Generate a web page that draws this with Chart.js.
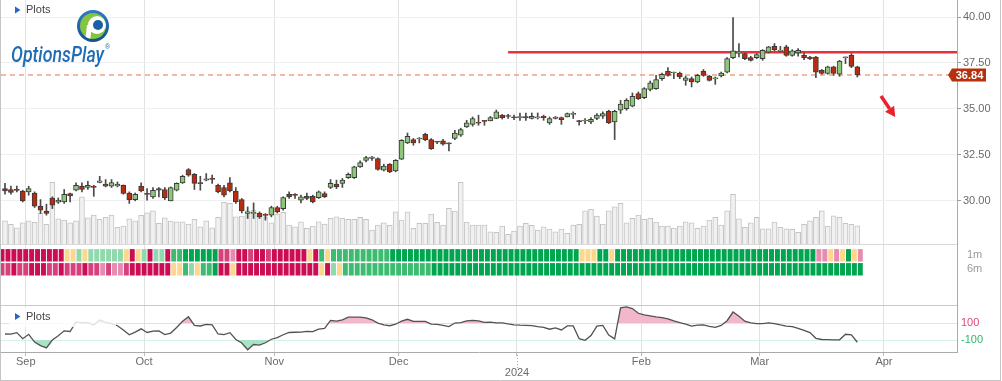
<!DOCTYPE html>
<html><head><meta charset="utf-8">
<script src="https://cdn.jsdelivr.net/npm/chart.js@4.4.1/dist/chart.umd.min.js"></script>
<style>html,body{margin:0;padding:0;background:#fff;overflow:hidden}canvas{display:block}</style>
</head><body>
<canvas id="c" width="1002" height="381"></canvas>
<script>
// ---------------- DATA ----------------
const opens = [30.65,30.60,30.56,30.52,30.47,30.41,29.69,29.43,30.13,29.91,
29.92,30.38,30.56,30.79,30.71,30.78,30.98,30.89,30.78,30.79,
30.82,30.41,30.05,30.78,30.38,30.20,30.65,30.60,29.98,30.56,
30.96,31.69,31.43,30.94,31.11,31.17,30.83,30.71,30.96,30.52,
30.05,29.29,29.29,29.32,29.21,29.20,29.62,29.56,30.34,30.30,
30.02,30.23,30.23,30.16,30.38,30.71,30.89,30.93,31.25,31.25,
31.83,32.19,32.29,32.29,31.65,31.98,31.61,32.25,33.14,33.32,
33.35,33.61,33.32,33.20,33.25,33.11,33.38,33.56,34.01,34.15,
34.23,34.32,34.34,34.47,34.65,34.59,34.52,34.52,34.53,34.47,
34.50,34.59,34.23,34.47,34.52,34.55,34.69,34.31,34.33,34.28,
34.47,34.59,34.86,34.28,34.92,35.01,35.14,35.83,35.61,36.05,
36.10,36.64,37.04,36.95,36.95,36.55,36.64,36.46,37.04,36.77,
36.63,36.79,37.00,37.79,38.03,38.01,37.79,37.79,37.73,38.09,
38.40,38.14,38.37,37.91,38.04,37.91,37.82,37.82,37.10,36.92,
37.28,36.88,37.78,37.91,37.28];
const highs = [30.94,30.78,30.78,30.56,30.78,30.47,30.05,29.80,30.20,30.14,
30.60,30.41,30.96,30.96,31.05,30.83,31.32,31.14,31.14,31.01,
30.85,30.47,30.41,30.96,30.65,30.71,30.71,30.71,30.74,30.96,
31.38,31.74,31.47,31.32,31.47,31.38,30.89,30.83,31.25,30.71,
30.11,29.65,29.87,29.38,29.29,29.69,29.69,30.20,30.47,30.38,
30.29,30.41,30.29,30.52,30.47,31.14,31.11,31.20,31.50,31.87,
32.16,32.41,32.41,32.32,31.98,32.01,32.23,33.32,33.68,33.38,
33.43,33.67,33.38,33.23,33.34,33.14,33.83,33.94,34.37,34.55,
34.65,34.37,34.58,34.93,34.69,34.70,34.65,34.77,34.77,34.77,
34.77,34.65,34.55,34.58,34.55,34.77,34.83,34.37,34.47,34.52,
34.74,34.83,34.92,34.92,35.46,35.55,35.86,35.92,36.15,36.51,
36.82,36.95,37.24,37.00,37.00,36.77,36.73,36.88,37.14,36.82,
36.73,37.00,37.79,39.97,38.55,38.04,37.86,38.01,38.22,38.40,
38.55,38.40,38.46,38.22,38.28,38.04,37.86,37.86,37.14,37.32,
37.32,37.64,37.82,38.01,37.32];
const lows = [30.34,30.34,30.47,29.92,30.29,29.62,29.29,29.20,29.56,29.84,
29.84,29.92,30.52,30.47,30.60,30.23,30.96,30.74,30.71,30.74,
30.34,29.84,29.98,30.47,30.02,30.11,30.20,30.05,29.98,30.52,
30.93,31.32,30.60,30.56,31.07,30.93,30.41,30.20,30.47,29.84,
29.32,29.02,29.02,29.02,28.93,29.11,29.32,29.47,30.11,30.11,
29.87,30.05,29.87,30.11,30.16,30.65,30.65,30.71,31.20,31.20,
31.80,32.10,32.19,31.65,31.61,31.52,31.56,32.23,33.10,33.01,
33.14,33.25,32.78,33.10,33.01,32.70,33.32,33.49,33.98,34.05,
34.10,34.10,34.34,34.46,34.44,34.47,34.41,34.37,34.37,34.44,
34.44,34.37,34.15,34.44,34.15,34.55,34.47,34.10,34.19,34.19,
34.41,34.47,34.19,33.32,34.74,34.92,35.10,35.50,35.55,35.97,
36.05,36.55,36.77,36.64,36.64,36.28,36.19,36.41,36.77,36.51,
36.33,36.73,36.95,37.73,37.82,37.68,37.60,37.73,37.64,38.04,
38.15,38.09,37.86,37.86,37.86,37.68,37.68,36.70,36.88,36.88,
36.82,36.77,37.46,37.24,36.73];
const closes = [30.52,30.44,30.55,29.98,30.65,29.69,29.47,29.29,29.74,30.02,
30.34,30.25,30.83,30.60,30.83,30.71,31.07,30.78,30.98,30.89,
30.38,30.05,30.33,30.52,30.33,30.56,30.56,30.16,30.71,30.93,
31.32,31.38,30.93,30.92,31.18,31.15,30.47,30.29,30.52,29.92,
29.43,29.38,29.36,29.11,29.19,29.62,29.38,30.16,30.20,30.28,
30.20,30.12,29.92,30.47,30.20,30.93,30.74,31.11,31.42,31.83,
32.07,32.34,32.37,31.69,31.87,31.56,32.19,33.28,33.50,33.14,
33.36,33.32,32.83,33.18,33.07,33.09,33.68,33.87,34.23,34.47,
34.21,34.31,34.52,34.83,34.52,34.58,34.51,34.53,34.52,34.59,
34.51,34.52,34.47,34.55,34.41,34.74,34.70,34.30,34.35,34.43,
34.65,34.74,34.23,34.86,35.25,35.46,35.68,35.55,36.10,36.41,
36.59,36.88,36.82,36.96,36.73,36.68,36.46,36.82,36.82,36.55,
36.65,36.95,37.73,38.15,38.05,37.73,37.64,37.95,38.19,38.37,
38.22,38.16,37.91,38.15,38.19,37.79,37.73,37.00,36.92,37.28,
36.92,37.60,37.80,37.31,36.84];
// volume in millions
const volumes = [9.3,7.9,6.5,8.5,9.3,8.7,12.3,7.9,24.7,10.1,
9.6,8.5,9.3,18.9,10.5,11.6,9.9,10.7,11.6,6.7,
7.2,10.1,9.3,11.5,12.5,13.3,8.3,10.5,9.2,8.9,
8.9,8.0,9.9,6.9,9.3,6.5,10.7,16.7,16.3,10.9,
11.2,13.3,13.6,12.3,10.9,8.5,12.0,12.7,7.6,6.9,
8.9,6.3,7.2,8.9,8.0,10.3,10.9,10.3,9.9,9.9,
10.7,9.9,5.6,7.6,8.5,7.5,12.9,9.6,12.9,6.3,
8.3,8.3,12.0,8.7,7.6,14.3,13.2,24.7,8.8,7.6,
7.6,7.6,4.9,4.7,7.2,3.9,5.2,7.2,8.3,7.5,
5.6,6.9,6.0,4.9,6.0,4.3,7.6,7.9,13.3,13.9,
11.2,8.0,13.3,14.9,16.3,8.5,10.3,11.6,9.9,10.3,
8.8,7.2,7.2,6.4,7.2,8.9,8.5,6.3,7.2,9.6,
10.7,7.6,13.3,19.9,10.1,6.7,8.5,10.7,6.1,6.1,
8.8,6.7,6.1,5.9,4.7,7.9,9.3,10.7,13.3,7.2,
11.3,10.7,8.3,7.9,7.3];
const cci = [-28,-29,-12,-84,-32,-125,-168,-195,-100,-50,
10,2,116,106,108,79,140,112,95,71,
20,-38,-6,34,-10,7,8,-36,-17,50,
124,178,75,68,87,82,-28,-36,-12,-94,
-136,-217,-154,-161,-133,-91,-71,-37,-10,-7,
-6,3,0,31,39,134,125,141,173,173,
173,166,142,103,81,71,89,126,148,124,
124,122,91,87,74,60,103,108,128,135,
129,110,113,105,104,92,82,77,74,71,
60,51,29,46,20,69,69,-84,-104,-46,
67,75,-40,-87,286,297,277,220,200,188,
176,168,154,128,108,90,67,77,80,64,
52,75,131,235,185,125,104,97,97,106,
96,80,67,59,39,15,-12,-80,-94,-96,
-98,-98,-31,-38,-127];
// heat-map codes (146 cells each): c crimson, p pink, l light pink, y yellow, a light green, b green, g dark green
const heat1m = ['ccccccccccc','yyay','aaaaaa','ycyacaac','bb','gggggg','pplccpccp','cccccc','ycby',
  'bbbbbbbbbb','gggggggggg','gggggggggg','gggggggggg','gg','yyy','gg','y',
  'gggggggggg','gggggggggg','gggggggggg','gggg','llylygyl'].join('').split('');
const heat6m = ['ppcppcccppcpppcpplpllp','ccccccc','yybaybbg','ccy','cccccccccccccc','ycay',
  'bbbbbbbbbb','bbbbb','gggggggggg','gggggggggg','gggggggggg','gggggggggg',
  'gggggggggg','gggggggggg','gggggggggg','ggg'].join('').split('');
const heatColors = {c:'#cc0c53', p:'#d6407d', l:'#e48db0', y:'#fdd88c', a:'#90d9ad', b:'#3dbb70', g:'#00a64f'};
const monthTickIdx = [3.5, 23.5, 45.5, 66.5, 86.5, 107.5, 127.5, 148.5];
const monthLabels = ['Sep','Oct','Nov','Dec','2024','Feb','Mar','Apr'];
const priceTicks = [30, 32.5, 35, 37.5, 40];
const cciTicks = [-100, 0, 100];
const heatRowValue = {m1: 2, m6: 1};
const heatRowLabels = {2: '1m', 1: '6m'};
const resistanceLevel = 38.08;
const resistanceStartIdx = 85;
const lastClose = 36.84;

// ---------------- LAYOUT ----------------
const FONT = '"Liberation Sans", Arial, sans-serif';
Chart.defaults.font.family = FONT;
Chart.defaults.font.size = 11;
Chart.defaults.color = '#666';
// panel bands (px): price 0-244, signal rows 244-305, indicator 305-352
const BANDS = {price: [0, 244], heat: [244, 305], cci: [305, 352], all: [0, 352]};
function rangeFrom(v1, y1, v2, y2, band) {   // two anchor (value, pixel) pairs -> axis min/max over a band
  const k = (v1 - v2) / (y2 - y1);
  return { max: v1 + (y1 - band[0]) * k, min: v1 - (band[1] - y1) * k };
}
const priceRange = rangeFrom(40, 17, 30, 200.5, BANDS.price);
const volRange = rangeFrom(40, 144, 0, 244, BANDS.all);
const heatRange = rangeFrom(2, 255.3, 1, 269.3, BANDS.heat);
const cciRange = rangeFrom(100, 323.3, -100, 340, BANDS.cci);
const barStep = 5.919, firstBarPx = 5, areaLeft = 1, areaRight = 957;
const xMin = -(firstBarPx - areaLeft) / barStep;
const xMax = xMin + (areaRight - areaLeft) / barStep;

const idx = opens.map((_, i) => i);
const up = idx.map(i => closes[i] >= opens[i]);
const noPad = s => { s.paddingTop = 0; s.paddingBottom = 0; s.paddingLeft = 0; s.paddingRight = 0; };
const rightAxisFit = s => { s.width = 44; noPad(s); };

function line(ctx, x1, y1, x2, y2) { ctx.beginPath(); ctx.moveTo(x1, y1); ctx.lineTo(x2, y2); ctx.stroke(); }
function plotsLabel(ctx, x, y) {
  ctx.fillStyle = '#2a63c9';
  ctx.beginPath(); ctx.moveTo(x, y - 3.5); ctx.lineTo(x + 5.5, y); ctx.lineTo(x, y + 3.5); ctx.closePath(); ctx.fill();
  ctx.fillStyle = '#444'; ctx.font = '11px ' + FONT; ctx.textBaseline = 'middle'; ctx.textAlign = 'left';
  ctx.fillText('Plots', x + 11, y);
}
function drawLogo(ctx) {
  const cx = 93, cy = 26, r = 16;
  ctx.save();
  const g = ctx.createLinearGradient(cx, cy - r, cx, cy + r);
  g.addColorStop(0, '#2d7cc4'); g.addColorStop(1, '#15508f');
  ctx.beginPath(); ctx.arc(cx, cy, r, 0, Math.PI * 2); ctx.fillStyle = g; ctx.fill();
  ctx.beginPath(); ctx.arc(cx, cy, r - 3, 0, Math.PI * 2); ctx.clip();
  ctx.fillStyle = '#84c441'; ctx.fillRect(cx - r, cy - r, 2 * r, 2 * r);
  ctx.fillStyle = '#fff';
  ctx.beginPath(); ctx.arc(cx + 4, cy - 1, 9, 0, Math.PI * 2); ctx.fill();
  ctx.beginPath(); ctx.moveTo(cx - 6, cy - 1); ctx.lineTo(cx - 1, cy - 1); ctx.lineTo(cx - 3, cy + r); ctx.lineTo(cx - 8, cy + r); ctx.closePath(); ctx.fill();
  ctx.fillStyle = '#1c5fa9';
  ctx.beginPath(); ctx.arc(cx + 5, cy - 1, 5, 0, Math.PI * 2); ctx.fill();
  ctx.restore();
  ctx.save();
  ctx.fillStyle = '#1f6db5'; ctx.textBaseline = 'alphabetic'; ctx.textAlign = 'left';
  ctx.font = 'italic 500 22px Roboto, ' + FONT;
  ctx.fillText('OptionsPlay', 11, 62, 93);
  ctx.font = '7px ' + FONT; ctx.fillText('®', 105, 49);
  ctx.restore();
}

const deco = {
  id: 'deco',
  beforeDatasetsDraw(chart) {
    const {ctx, chartArea: a, scales} = chart;
    ctx.save(); ctx.lineWidth = 1;
    ctx.strokeStyle = '#d9d9d9';
    const yh = Math.round(scales.yHeat.top) + 0.5;
    line(ctx, a.left, yh, a.right, yh);
    ctx.strokeStyle = '#c9c9c9';
    const yc = Math.round(scales.yCci.top) + 0.5;
    line(ctx, a.left, yc, a.right, yc);
    ctx.restore();
  },
  afterDatasetsDraw(chart) {
    const {ctx, scales} = chart;
    ctx.save();
    // indicator-panel label with its translucent backing
    ctx.fillStyle = 'rgba(255,255,255,0.82)';
    ctx.fillRect(9, 308, 107, 19);
    plotsLabel(ctx, 15, 316.5);
    plotsLabel(ctx, 15, 10);
    drawLogo(ctx);
    // red arrow
    const x1 = scales.x.getPixelForValue(148.0), y1 = scales.yPrice.getPixelForValue(35.69);
    const x2 = scales.x.getPixelForValue(150.4), y2 = scales.yPrice.getPixelForValue(34.55);
    const dx = x2 - x1, dy = y2 - y1, len = Math.hypot(dx, dy), ux = dx / len, uy = dy / len;
    const hl = 10, hw = 5.5, bx = x2 - ux * hl, by = y2 - uy * hl;
    ctx.strokeStyle = '#e8232f'; ctx.lineWidth = 3.5; ctx.lineCap = 'butt';
    line(ctx, x1, y1, bx, by);
    ctx.fillStyle = '#e8232f';
    ctx.beginPath(); ctx.moveTo(x2, y2); ctx.lineTo(bx - uy * hw, by + ux * hw); ctx.lineTo(bx + uy * hw, by - ux * hw); ctx.closePath(); ctx.fill();
    // last price tag
    const ty = scales.yPrice.getPixelForValue(lastClose);
    ctx.fillStyle = '#b5300c';
    ctx.beginPath(); ctx.moveTo(948, ty); ctx.lineTo(952, ty - 6.5); ctx.lineTo(986, ty - 6.5); ctx.lineTo(986, ty + 6.5); ctx.lineTo(952, ty + 6.5); ctx.closePath(); ctx.fill();
    ctx.fillStyle = '#fff'; ctx.font = 'bold 11px ' + FONT; ctx.textAlign = 'center'; ctx.textBaseline = 'middle';
    ctx.fillText(lastClose.toFixed(2), 969.5, ty + 0.5);
    ctx.restore();
  },
  afterDraw(chart) {
    const {ctx, chartArea: a, scales} = chart;
    ctx.save();
    ctx.strokeStyle = '#aaa'; ctx.lineWidth = 1; ctx.setLineDash([1, 2]);
    const xt = Math.round(scales.x.getPixelForValue(monthTickIdx[4])) + 0.5;
    line(ctx, xt, a.bottom, xt, a.bottom + 16);
    ctx.setLineDash([]);
    ctx.strokeStyle = '#c4c4c4';
    line(ctx, 0.5, 0, 0.5, 381);
    line(ctx, 1000.5, 0, 1000.5, 381);
    line(ctx, 0, 380.5, 1001, 380.5);
    ctx.restore();
  }
};

new Chart(document.getElementById('c'), {
  type: 'bar',
  data: {
    datasets: [
      { type: 'bar', label: 'body', yAxisID: 'yPrice', order: 0, grouped: false,
        data: idx.map(i => ({x: i, y: [opens[i], closes[i]]})),
        backgroundColor: idx.map(i => up[i] ? '#8cc77a' : '#bb2b0e'),
        borderColor: '#3a3a3a', borderWidth: 1, borderSkipped: false, barThickness: 5, minBarLength: 1 },
      { type: 'bar', label: 'wick', yAxisID: 'yPrice', order: 1, grouped: false,
        data: idx.map(i => ({x: i, y: [lows[i], highs[i]]})),
        backgroundColor: '#4a4a4a', barThickness: 1 },
      { type: 'line', label: 'resistance', yAxisID: 'yPrice', order: 2,
        data: [{x: resistanceStartIdx, y: resistanceLevel}, {x: xMax, y: resistanceLevel}],
        borderColor: '#e8313d', borderWidth: 2.5, pointRadius: 0 },
      { type: 'line', label: 'last', yAxisID: 'yPrice', order: 3,
        data: [{x: xMin, y: lastClose}, {x: xMax, y: lastClose}],
        borderColor: '#f0a08c', borderWidth: 1.5, borderDash: [5, 4], pointRadius: 0 },
      { type: 'line', label: 'cci', yAxisID: 'yCci', order: 4,
        data: idx.map(i => ({x: i, y: cci[i]})),
        borderColor: '#525252', borderWidth: 1.3, pointRadius: 0,
        fill: {target: {value: 100}, above: '#f3b7cb', below: 'rgba(0,0,0,0)'} },
      { type: 'line', label: 'cciLow', yAxisID: 'yCci', order: 5,
        data: idx.map(i => ({x: i, y: cci[i]})),
        borderColor: 'rgba(0,0,0,0)', borderWidth: 0, pointRadius: 0,
        fill: {target: {value: -100}, above: 'rgba(0,0,0,0)', below: '#a9e3c6'} },
      { type: 'bar', label: '1m', yAxisID: 'yHeat', order: 6, grouped: false,
        data: heat1m.map((_, k) => ({x: k - 0.5, y: [heatRowValue.m1 - 0.42, heatRowValue.m1 + 0.42]})),
        backgroundColor: heat1m.map(c => heatColors[c]), barThickness: 4.3 },
      { type: 'bar', label: '6m', yAxisID: 'yHeat', order: 7, grouped: false,
        data: heat6m.map((_, k) => ({x: k - 0.5, y: [heatRowValue.m6 - 0.42, heatRowValue.m6 + 0.42]})),
        backgroundColor: heat6m.map(c => heatColors[c]), barThickness: 4.3 },
      { type: 'bar', label: 'volume', yAxisID: 'yVol', order: 9, grouped: false,
        data: idx.map(i => ({x: i, y: volumes[i]})),
        backgroundColor: '#f1f1f1', borderColor: '#c4c4c4', borderWidth: 1, barThickness: 5 }
    ]
  },
  options: {
    responsive: false, animation: false, devicePixelRatio: 1, events: [],
    layout: { padding: { left: 1, right: 1, top: 0, bottom: 0 } },
    plugins: { legend: { display: false }, tooltip: { enabled: false } },
    scales: {
      x: { type: 'linear', position: 'bottom', min: xMin, max: xMax, offset: false,
        afterBuildTicks: s => { s.ticks = monthTickIdx.map(v => ({value: v})); },
        afterFit: s => { s.height = 29; noPad(s); },
        ticks: { autoSkip: false, maxRotation: 0, minRotation: 0, padding: 0, color: '#6a6a6a',
          font: { size: 11, lineHeight: 1.05 },
          callback: (v, i) => i === 4 ? ['', monthLabels[i]] : monthLabels[i] },
        grid: { offset: false, color: '#e2e2e2', tickLength: 4, tickColor: '#bbb' },
        border: { display: true, color: '#aaa' } },
      yPrice: { type: 'linear', position: 'right', stack: 'right', stackWeight: BANDS.price[1] - BANDS.price[0],
        min: priceRange.min, max: priceRange.max,
        afterBuildTicks: s => { s.ticks = priceTicks.map(v => ({value: v})); },
        afterFit: rightAxisFit,
        ticks: { color: '#6a6a6a', padding: 2, callback: v => v.toFixed(2) },
        grid: { color: '#efefef', tickLength: 4, tickColor: '#999' },
        border: { display: true, color: '#aaa' } },
      yHeat: { type: 'linear', position: 'right', stack: 'right', stackWeight: BANDS.heat[1] - BANDS.heat[0],
        min: heatRange.min, max: heatRange.max,
        afterBuildTicks: s => { s.ticks = [1, 2].map(v => ({value: v})); },
        afterFit: rightAxisFit,
        ticks: { color: '#9a9a9a', padding: 10, callback: v => heatRowLabels[v] },
        grid: { display: false, drawTicks: false }, border: { display: true, color: '#aaa' } },
      yCci: { type: 'linear', position: 'right', stack: 'right', stackWeight: BANDS.cci[1] - BANDS.cci[0],
        min: cciRange.min, max: cciRange.max,
        afterBuildTicks: s => { s.ticks = cciTicks.map(v => ({value: v})); },
        afterFit: rightAxisFit,
        ticks: { padding: 4, callback: v => v === 0 ? '' : String(v),
          color: c => c.tick && c.tick.value > 0 ? '#e0457b' : '#2fb66f' },
        grid: { drawTicks: false,
          color: c => !c.tick ? '#ddd' : c.tick.value > 0 ? '#f8dbe5' : c.tick.value < 0 ? '#d6f1e3' : '#9c9c9c',
          lineWidth: c => c.tick && c.tick.value === 0 ? 1.5 : 1 },
        border: { display: true, color: '#aaa' } },
      yVol: { type: 'linear', display: false, min: volRange.min, max: volRange.max }
    }
  },
  plugins: [deco]
});
</script>
</body></html>
